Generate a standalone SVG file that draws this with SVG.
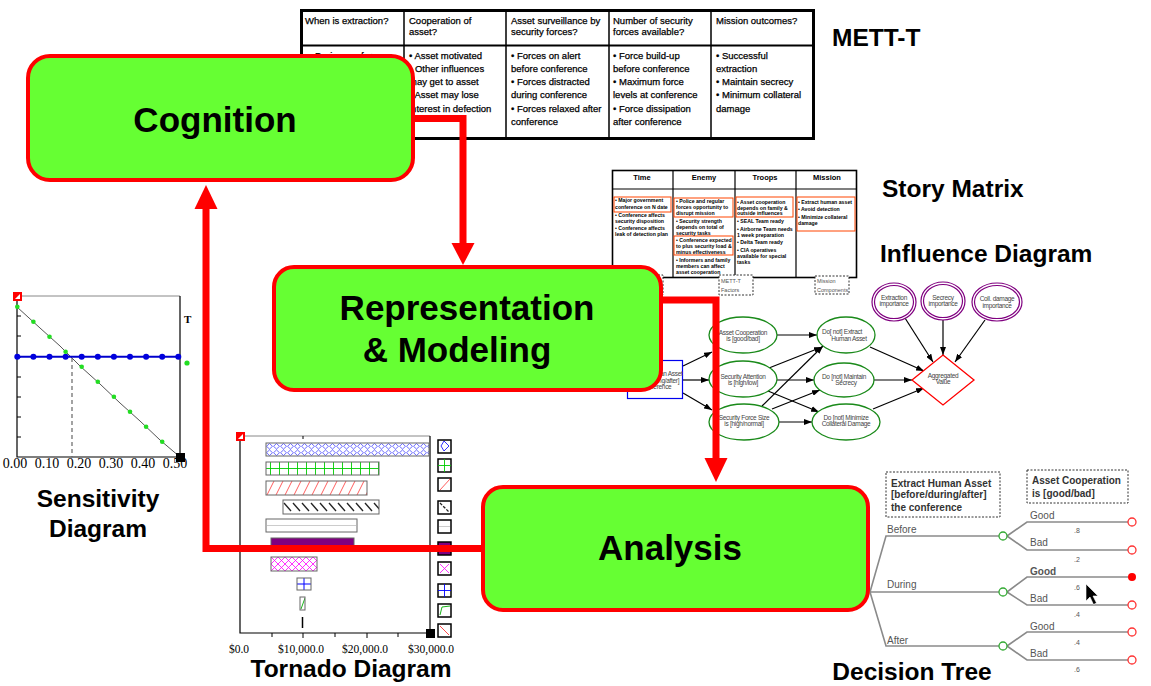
<svg xmlns="http://www.w3.org/2000/svg" width="1151" height="686" viewBox="0 0 1151 686">
<defs>
<style>
.box{fill:#66FF33;stroke:#FF0000;stroke-width:4}
.big{font-family:"Liberation Sans",Arial,sans-serif;font-weight:bold;font-size:35px;fill:#000;text-anchor:middle}
.cap{font-family:"Liberation Sans",Arial,sans-serif;font-weight:bold;font-size:24.5px;fill:#000}
.flow{fill:none;stroke:#FF0000;stroke-width:7}
.head{fill:#FF0000}
.mt{font-family:"Liberation Sans",Arial,sans-serif;font-size:9.5px;fill:#000;stroke:#000;stroke-width:0.25}
.sm{font-family:"Liberation Sans",Arial,sans-serif;font-size:5.2px;font-weight:bold;fill:#000}
.smh{font-family:"Liberation Sans",Arial,sans-serif;font-size:7.5px;font-weight:bold;fill:#000;text-anchor:middle}
.ob{fill:none;stroke:#FF4500;stroke-width:1}
.dash{fill:none;stroke:#333;stroke-width:1;stroke-dasharray:2,1.5}
.tiny{font-family:"Liberation Sans",Arial,sans-serif;font-size:5.5px;fill:#555}
.ell{fill:#fff;stroke:#1a8a1a;stroke-width:1.3}
.it{font-family:"Liberation Sans",Arial,sans-serif;font-size:6.5px;letter-spacing:-0.3px;fill:#444;text-anchor:middle}
.ia{fill:none;stroke:#000;stroke-width:1.2;marker-end:url(#ah)}
.pur{fill:#fff;stroke:#800080;stroke-width:1.2}
.ax{fill:none;stroke:#000;stroke-width:1.2}
.num{font-family:"Liberation Serif","Times New Roman",serif;font-size:14px;fill:#000;text-anchor:middle}
.tnum{font-family:"Liberation Serif","Times New Roman",serif;font-size:11.5px;fill:#000;text-anchor:middle}
.bar{stroke:#666;stroke-width:1}
.leg{stroke:#000;stroke-width:1.5}
.br{fill:none;stroke:#8a8a8a;stroke-width:1.6}
.bl{font-family:"Liberation Sans",Arial,sans-serif;font-size:10px;fill:#555}
.pr{font-family:"Liberation Sans",Arial,sans-serif;font-size:7px;fill:#555;text-anchor:middle}
.db{font-family:"Liberation Sans",Arial,sans-serif;font-size:10px;font-weight:bold;fill:#333}
.cn{fill:#fff;stroke:#33aa33;stroke-width:1.3}
.en{fill:#fff;stroke:#ff3333;stroke-width:1.3}
</style>
<marker id="ah" viewBox="0 0 8 6" refX="8" refY="3" markerWidth="8" markerHeight="6" markerUnits="userSpaceOnUse" orient="auto">
<path d="M0,0 L8,3 L0,6 z" fill="#000"/>
</marker>
<pattern id="pXb" width="7" height="6.5" patternUnits="userSpaceOnUse" x="266" y="443">
<path d="M3.5,0.5 L0.5,3.25 L3.5,6 L6.5,3.25 Z" fill="none" stroke="#2222ff" stroke-width="0.7"/>
</pattern>
<pattern id="pXm" width="7" height="7" patternUnits="userSpaceOnUse" x="271" y="557">
<path d="M0,0 L7,7 M7,0 L0,7" fill="none" stroke="#ff00ff" stroke-width="0.8"/>
</pattern>
<pattern id="pGg" width="9" height="13" patternUnits="userSpaceOnUse" x="266" y="462">
<path d="M4.5,0 V13 M0,6.5 H9" fill="none" stroke="#00cc00" stroke-width="0.9"/>
</pattern>
<pattern id="pGb" width="14" height="12" patternUnits="userSpaceOnUse" x="297" y="578">
<path d="M7,0 V12 M0,6 H14" fill="none" stroke="#0000ff" stroke-width="1"/>
</pattern>
<pattern id="pDr" width="9" height="14" patternUnits="userSpaceOnUse" x="266" y="481">
<path d="M1,14 L8,0" fill="none" stroke="#ff3333" stroke-width="0.8"/>
</pattern>
<pattern id="pDk" width="9" height="14" patternUnits="userSpaceOnUse" x="283" y="500">
<path d="M1,3 L8,11" fill="none" stroke="#222" stroke-width="1.4"/>
</pattern>
<pattern id="pDg" width="6" height="13" patternUnits="userSpaceOnUse" x="300" y="597">
<path d="M1,12 L5,1" fill="none" stroke="#00aa00" stroke-width="0.9"/>
</pattern>
</defs>

<rect width="1151" height="686" fill="#fff"/>

<!-- METT-T table -->
<g id="mett-t-table">
<rect x="301.5" y="10.5" width="512" height="128" fill="#fff" stroke="#000" stroke-width="3"/>
<line x1="301" y1="45.5" x2="814" y2="45.5" stroke="#000" stroke-width="2"/>
<path d="M404,10 V139 M506,10 V139 M609,10 V139 M711,10 V139" stroke="#000" stroke-width="1.5"/>
<text class="mt" x="305" y="23.5">When is extraction?</text>
<text class="mt" x="409" y="23.5">Cooperation of</text>
<text class="mt" x="409" y="35">asset?</text>
<text class="mt" x="511" y="23.5">Asset surveillance by</text>
<text class="mt" x="511" y="35">security forces?</text>
<text class="mt" x="613" y="23.5">Number of security</text>
<text class="mt" x="613" y="35">forces available?</text>
<text class="mt" x="716" y="23.5">Mission outcomes?</text>
<text class="mt" x="309" y="59">• During conference</text>
<text class="mt" x="409" y="59">• Asset motivated</text>
<text class="mt" x="409" y="72">• Other influences</text>
<text class="mt" x="409" y="85">may get to asset</text>
<text class="mt" x="409" y="98">• Asset may lose</text>
<text class="mt" x="409" y="111.5">interest in defection</text>
<text class="mt" x="511" y="59">• Forces on alert</text>
<text class="mt" x="511" y="72">before conference</text>
<text class="mt" x="511" y="85">• Forces distracted</text>
<text class="mt" x="511" y="98">during conference</text>
<text class="mt" x="511" y="111.5">• Forces relaxed after</text>
<text class="mt" x="511" y="124.5">conference</text>
<text class="mt" x="613" y="59">• Force build-up</text>
<text class="mt" x="613" y="72">before conference</text>
<text class="mt" x="613" y="85">• Maximum force</text>
<text class="mt" x="613" y="98">levels at conference</text>
<text class="mt" x="613" y="111.5">• Force dissipation</text>
<text class="mt" x="613" y="124.5">after conference</text>
<text class="mt" x="716" y="59">• Successful</text>
<text class="mt" x="716" y="72">extraction</text>
<text class="mt" x="716" y="85">• Maintain secrecy</text>
<text class="mt" x="716" y="98">• Minimum collateral</text>
<text class="mt" x="716" y="111.5">damage</text>
<text class="cap" x="832" y="46">METT-T</text>
</g>

<!-- Story matrix -->
<g id="story-matrix">
<rect x="612.5" y="170.5" width="244" height="107" fill="#fff" stroke="#000" stroke-width="1.6"/>
<line x1="612" y1="189" x2="857" y2="189" stroke="#000" stroke-width="1.2"/>
<path d="M673,170 V278 M735,170 V278 M796,170 V278" stroke="#000" stroke-width="1.2"/>
<text class="smh" x="642" y="180">Time</text>
<text class="smh" x="704" y="180">Enemy</text>
<text class="smh" x="765" y="180">Troops</text>
<text class="smh" x="827" y="180">Mission</text>
<rect class="ob" x="614" y="197" width="57" height="15"/>
<rect class="ob" x="674" y="198" width="59" height="19"/>
<rect class="ob" x="674" y="236" width="59" height="19"/>
<rect class="ob" x="736" y="197" width="57" height="20"/>
<rect class="ob" x="797" y="197" width="58" height="34"/>
<text class="sm" x="615" y="202">• Major government</text>
<text class="sm" x="615" y="209">conference on N date</text>
<text class="sm" x="615" y="217">• Conference affects</text>
<text class="sm" x="615" y="223">security disposition</text>
<text class="sm" x="615" y="230">• Conference affects</text>
<text class="sm" x="615" y="236">leak of detection plan</text>
<text class="sm" x="676" y="203">• Police and regular</text>
<text class="sm" x="676" y="209">forces opportunity to</text>
<text class="sm" x="676" y="215">disrupt mission</text>
<text class="sm" x="676" y="223">• Security strength</text>
<text class="sm" x="676" y="229">depends on total of</text>
<text class="sm" x="676" y="235">security tasks</text>
<text class="sm" x="676" y="242">• Conference expected</text>
<text class="sm" x="676" y="248">to plus security load &amp;</text>
<text class="sm" x="676" y="254">minus effectiveness</text>
<text class="sm" x="676" y="262">• Informers and family</text>
<text class="sm" x="676" y="268">members can affect</text>
<text class="sm" x="676" y="274">asset cooperation</text>
<text class="sm" x="737" y="204">• Asset cooperation</text>
<text class="sm" x="737" y="209.5">depends on family &amp;</text>
<text class="sm" x="737" y="215">outside influences</text>
<text class="sm" x="737" y="223">• SEAL Team ready</text>
<text class="sm" x="737" y="231">• Airborne Team needs</text>
<text class="sm" x="737" y="236.5">1 week preparation</text>
<text class="sm" x="737" y="244">• Delta Team ready</text>
<text class="sm" x="737" y="252">• CIA operatives</text>
<text class="sm" x="737" y="258">available for special</text>
<text class="sm" x="737" y="264">tasks</text>
<text class="sm" x="798" y="204">• Extract human asset</text>
<text class="sm" x="798" y="211">• Avoid detection</text>
<text class="sm" x="798" y="219">• Minimize collateral</text>
<text class="sm" x="798" y="225">damage</text>
<rect class="dash" x="630" y="275" width="33" height="20" style="fill:#fff"/>
<rect class="dash" x="719" y="275" width="34" height="20" style="fill:#fff"/>
<text class="tiny" x="721" y="283">METT-T</text>
<text class="tiny" x="721" y="292">Factors</text>
<rect class="dash" x="815" y="276" width="34" height="18" style="fill:#fff"/>
<text class="tiny" x="817" y="283">Mission</text>
<text class="tiny" x="817" y="292">Components</text>
<text class="cap" x="882" y="197">Story Matrix</text>
<text class="cap" x="880" y="262">Influence Diagram</text>
</g>

<!-- Influence diagram -->
<g id="influence-diagram">
<path class="ia" d="M683,366 L712,352"/>
<path class="ia" d="M683,380 L709,380"/>
<path class="ia" d="M683,393 L712,410"/>
<path class="ia" d="M777,335 L817,335"/>
<path class="ia" d="M769,368 L822,347"/>
<path class="ia" d="M777,380 L814,380"/>
<path class="ia" d="M768,391 L819,412"/>
<path class="ia" d="M762,406 L823,346"/>
<path class="ia" d="M772,409 L820,390"/>
<path class="ia" d="M778,422 L812,422"/>
<path class="ia" d="M870,347 L924,371"/>
<path class="ia" d="M874,380 L912,380"/>
<path class="ia" d="M873,409 L924,388"/>
<path class="ia" d="M905,318 L933,362"/>
<path class="ia" d="M943,320 L943,355"/>
<path class="ia" d="M985,320 L955,362"/>
<rect x="627.5" y="360.5" width="55" height="38" fill="#fff" stroke="#0000ee" stroke-width="1.2"/>
<text class="it" x="655" y="376">Extract Human Asset</text>
<text class="it" x="654" y="382.5">[before/during/after]</text>
<text class="it" x="652" y="389">the conference</text>
<ellipse class="ell" cx="743" cy="335" rx="34" ry="18"/>
<text class="it" x="743" y="334.5">Asset Cooperation</text>
<text class="it" x="743" y="341">is [good/bad]</text>
<ellipse class="ell" cx="743" cy="379" rx="34" ry="18"/>
<text class="it" x="743" y="378.5">Security Attention</text>
<text class="it" x="743" y="384.5">is [high/low]</text>
<ellipse class="ell" cx="744" cy="422" rx="35" ry="18"/>
<text class="it" x="744" y="419.5">Security Force Size</text>
<text class="it" x="744" y="426">is [high/normal]</text>
<ellipse class="ell" cx="846" cy="335" rx="29" ry="18"/>
<text class="it" x="842" y="334">Do[ not] Extract</text>
<text class="it" x="849" y="340.5">Human Asset</text>
<ellipse class="ell" cx="844" cy="380" rx="30" ry="17"/>
<text class="it" x="844" y="378.5">Do [not] Maintain</text>
<text class="it" x="846" y="384.5">Secrecy</text>
<ellipse class="ell" cx="846" cy="422" rx="34" ry="18"/>
<text class="it" x="846" y="419.5">Do [not] Minimize</text>
<text class="it" x="846" y="425.5">Collateral Damage</text>
<polygon points="943,355 974,380 943,405 912,380" fill="#fff" stroke="#ff0000" stroke-width="1.3"/>
<text class="it" x="943" y="378">Aggregated</text>
<text class="it" x="943" y="384">Value</text>
<ellipse class="pur" cx="894" cy="302" rx="22" ry="19"/>
<ellipse class="pur" cx="894" cy="302" rx="19.5" ry="16.5"/>
<text class="it" x="894" y="299.5">Extraction</text>
<text class="it" x="894" y="306">importance</text>
<ellipse class="pur" cx="943" cy="301" rx="22" ry="19"/>
<ellipse class="pur" cx="943" cy="301" rx="19.5" ry="16.5"/>
<text class="it" x="943" y="299.5">Secrecy</text>
<text class="it" x="943" y="306">importance</text>
<ellipse class="pur" cx="997" cy="302" rx="25" ry="19"/>
<ellipse class="pur" cx="997" cy="302" rx="22.5" ry="16.5"/>
<text class="it" x="997" y="300.5">Coll. damage</text>
<text class="it" x="997" y="307.5">importance</text>
</g>

<!-- Sensitivity plot -->
<g id="sensitivity-diagram">
<line x1="17" y1="296" x2="180" y2="296" stroke="#888" stroke-width="1"/>
<path class="ax" d="M17,296 V457 H180 V296"/>
<path d="M17,316 h4 M17,336 h4 M17,357 h4 M17,377 h4 M17,397 h4 M17,417 h4 M17,437 h4" stroke="#000" stroke-width="1"/>
<polyline points="17,307 40,328 60,346 80,366 100,384 120,403 140,421 160,440 180,457" fill="none" stroke="#555" stroke-width="1"/>
<line x1="72" y1="358" x2="72" y2="457" stroke="#666" stroke-width="1.2" stroke-dasharray="4,3"/>
<line x1="17" y1="356.7" x2="180" y2="356.7" stroke="#0000cc" stroke-width="2"/>
<g fill="#0000dd">
<circle cx="17.3" cy="356.7" r="3"/><circle cx="33.4" cy="356.7" r="3"/><circle cx="49.5" cy="356.7" r="3"/><circle cx="65.6" cy="356.7" r="3"/><circle cx="81.7" cy="356.7" r="3"/><circle cx="97.8" cy="356.7" r="3"/><circle cx="113.9" cy="356.7" r="3"/><circle cx="130" cy="356.7" r="3"/><circle cx="146.1" cy="356.7" r="3"/><circle cx="162.2" cy="356.7" r="3"/><circle cx="178.3" cy="356.7" r="3"/>
</g>
<g fill="#22dd22">
<circle cx="17.3" cy="306.7" r="2.3"/><circle cx="33.4" cy="321.7" r="2.3"/><circle cx="49.5" cy="336.7" r="2.3"/><circle cx="65.6" cy="351.7" r="2.3"/><circle cx="81.7" cy="366.7" r="2.3"/><circle cx="97.8" cy="381.7" r="2.3"/><circle cx="113.9" cy="396.7" r="2.3"/><circle cx="130" cy="411.7" r="2.3"/><circle cx="146.1" cy="426.7" r="2.3"/><circle cx="162.2" cy="441.7" r="2.3"/><circle cx="178.3" cy="456.7" r="2.3"/>
<circle cx="187" cy="363" r="2.6"/>
</g>
<rect x="13" y="292" width="9" height="9" fill="#ff0000"/>
<polygon points="15,299 20,294 20,299" fill="#fff"/>
<rect x="176" y="453" width="9" height="9" fill="#000"/>
<text x="184" y="323" font-family="Liberation Serif,serif" font-size="11" font-weight="bold" fill="#000">T</text>
<text class="num" x="15" y="468">0.00</text>
<text class="num" x="47" y="468">0.10</text>
<text class="num" x="79" y="468">0.20</text>
<text class="num" x="111" y="468">0.30</text>
<text class="num" x="143" y="468">0.40</text>
<text class="num" x="175" y="468">0.50</text>
<text class="cap" x="98" y="507" text-anchor="middle">Sensitivity</text>
<text class="cap" x="98" y="537" text-anchor="middle">Diagram</text>
</g>

<!-- Tornado chart -->
<g id="tornado-diagram">
<line x1="240" y1="436" x2="430" y2="436" stroke="#888" stroke-width="1"/>
<path class="ax" d="M240,436 V633 H430 V436"/>
<path d="M272,633 v4 M303,633 v5 M335,633 v4 M367,633 v5 M398,633 v4 M303,436 v3" stroke="#000" stroke-width="1"/>
<rect class="bar" x="266" y="443" width="163" height="13" fill="url(#pXb)"/>
<rect class="bar" x="266" y="462" width="113" height="13" fill="url(#pGg)"/>
<rect class="bar" x="266" y="481" width="101" height="14" fill="url(#pDr)"/>
<rect class="bar" x="283" y="500" width="96" height="14" fill="url(#pDk)"/>
<rect class="bar" x="266" y="519" width="91" height="13" fill="#fff"/>
<line x1="267" y1="525.5" x2="356" y2="525.5" stroke="#ccc" stroke-width="1"/>
<rect class="bar" x="271" y="538" width="83" height="13" fill="#800080"/>
<rect class="bar" x="271" y="557" width="46" height="14" fill="url(#pXm)"/>
<rect class="bar" x="297" y="578" width="14" height="12" fill="url(#pGb)"/>
<rect class="bar" x="300" y="597" width="5" height="13" fill="url(#pDg)"/>
<line x1="302.5" y1="617" x2="302.5" y2="628" stroke="#000" stroke-width="1.5"/>
<g>
<rect class="leg" x="438" y="440" width="13" height="13" fill="#fff"/><path d="M444,441 L441,446 L444,451 L449,446 Z" fill="none" stroke="#0000ff" stroke-width="0.8"/>
<rect class="leg" x="438" y="459" width="13" height="13" fill="#fff"/><path d="M444.5,459 V472 M438,465.5 H451" stroke="#00cc00" stroke-width="0.9"/>
<rect class="leg" x="438" y="478" width="13" height="13" fill="#fff"/><path d="M440,490 L450,479" stroke="#ff3333" stroke-width="0.8"/>
<rect class="leg" x="438" y="501" width="13" height="13" fill="#fff"/><path d="M440,503 L449,512" stroke="#222" stroke-width="1.3" stroke-dasharray="3,1.5"/>
<rect class="leg" x="438" y="520" width="13" height="13" fill="#fff"/><line x1="439" y1="526.5" x2="450" y2="526.5" stroke="#ccc"/>
<rect class="leg" x="438" y="542" width="13" height="13" fill="#800080"/>
<rect class="leg" x="438" y="562" width="13" height="13" fill="#fff"/><path d="M440,564 L449,573 M449,564 L440,573" stroke="#ff00ff" stroke-width="0.8"/>
<rect class="leg" x="438" y="584" width="13" height="13" fill="#fff"/><path d="M444.5,584 V597 M438,590.5 H451" stroke="#0000ff" stroke-width="0.9"/>
<rect class="leg" x="438" y="604" width="13" height="13" fill="#fff"/><path d="M440,615 L442,607 L450,606" fill="none" stroke="#00aa00" stroke-width="0.9"/>
<rect class="leg" x="438" y="624" width="13" height="13" fill="#fff"/><path d="M440,626 L449,635" stroke="#ff3333" stroke-width="0.9"/>
</g>
<rect x="236" y="432" width="9" height="9" fill="#ff0000"/>
<polygon points="238,439 243,434 243,439" fill="#fff"/>
<rect x="426" y="629" width="9" height="9" fill="#000"/>
<text class="tnum" x="239" y="653">$0.0</text>
<text class="tnum" x="301" y="653">$10,000.0</text>
<text class="tnum" x="365" y="653">$20,000.0</text>
<text class="tnum" x="431" y="653">$30,000.0</text>
<text class="cap" x="351" y="677" text-anchor="middle">Tornado Diagram</text>
</g>

<!-- Decision tree -->
<g id="decision-tree">
<rect class="dash" x="886" y="472" width="114" height="45"/>
<text class="db" x="891" y="487">Extract Human Asset</text>
<text class="db" x="891" y="498">[before/during/after]</text>
<text class="db" x="891" y="511">the conference</text>
<rect class="dash" x="1027" y="470" width="101" height="33"/>
<text class="db" x="1032" y="484">Asset Cooperation</text>
<text class="db" x="1032" y="497">is [good/bad]</text>
<path class="br" d="M870,592 L886,536 H999 M870,592 H999 M870,592 L886,646 H999"/>
<path class="br" d="M1007,536 L1027,522 H1128 M1007,536 L1027,550 H1128"/>
<path class="br" d="M1007,592 L1027,577 H1128 M1007,592 L1027,605 H1128"/>
<path class="br" d="M1007,646 L1027,632 H1128 M1007,646 L1027,660 H1128"/>
<circle class="cn" cx="1003" cy="536" r="4"/>
<circle class="cn" cx="1003" cy="592" r="4"/>
<circle class="cn" cx="1003" cy="646" r="4"/>
<circle class="en" cx="1132" cy="522" r="4"/>
<circle class="en" cx="1132" cy="550" r="4"/>
<circle cx="1132" cy="577" r="4" fill="#ff0000"/>
<circle class="en" cx="1132" cy="605" r="4"/>
<circle class="en" cx="1132" cy="632" r="4"/>
<circle class="en" cx="1132" cy="660" r="4"/>
<text class="bl" x="887" y="533">Before</text>
<text class="bl" x="887" y="588">During</text>
<text class="bl" x="887" y="644">After</text>
<text class="bl" x="1030" y="519">Good</text>
<text class="bl" x="1030" y="546">Bad</text>
<text class="bl" x="1030" y="575" font-weight="bold" fill="#222">Good</text>
<text class="bl" x="1030" y="602">Bad</text>
<text class="bl" x="1030" y="630">Good</text>
<text class="bl" x="1030" y="657">Bad</text>
<text class="pr" x="1077" y="533">.8</text>
<text class="pr" x="1077" y="562">.2</text>
<text class="pr" x="1077" y="590">.6</text>
<text class="pr" x="1077" y="617">.4</text>
<text class="pr" x="1077" y="645">.4</text>
<text class="pr" x="1077" y="672">.6</text>
<polygon points="1086,584 1086,601 1090,597 1093.5,604.5 1096.5,603 1093,596 1098,596" fill="#000" stroke="#fff" stroke-width="0.6"/>
<text class="cap" x="912" y="680" text-anchor="middle">Decision Tree</text>
</g>

<!-- Process flow connectors -->
<g id="connectors">
<path class="flow" d="M413,118.5 H463 V244"/>
<polygon class="head" points="451.5,243 474.5,243 463,265"/>
<path class="flow" d="M661,300 H716 V459"/>
<polygon class="head" points="704.5,458 727.5,458 716,482"/>
<path class="flow" d="M483,548.5 H206 V209"/>
<polygon class="head" points="194.5,209 217.5,209 206,185"/>
</g>

<!-- Process stages -->
<g id="cognition">
<rect class="box" x="28" y="56" width="385" height="124" rx="22"/>
<text class="big" x="215" y="132">Cognition</text>
</g>
<g id="representation">
<rect class="box" x="274" y="267" width="387" height="123" rx="20"/>
<text class="big" x="467" y="320">Representation</text>
<text class="big" x="457" y="362">&amp; Modeling</text>
</g>
<g id="analysis">
<rect class="box" x="483" y="487" width="385" height="123" rx="20"/>
<text class="big" x="670" y="560">Analysis</text>
</g>
</svg>
